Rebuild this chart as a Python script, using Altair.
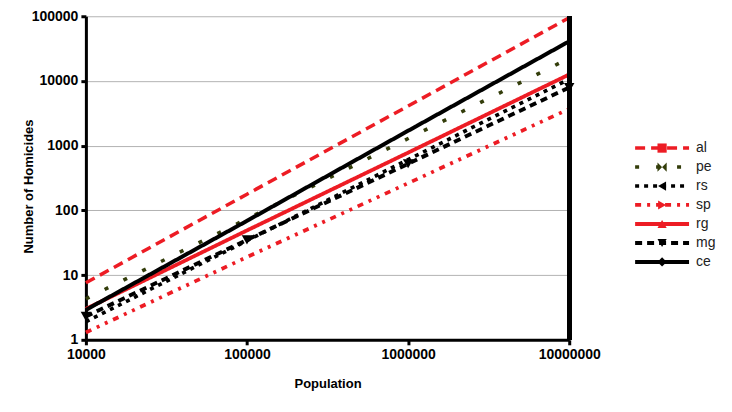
import altair as alt
import pandas as pd

names = ["al", "pe", "rs", "sp", "rg", "mg", "ce"]
population = [10000, 100000, 1000000, 10000000]
al = [7.6, 178, 4100, 95000]
pe = [4.3, 74, 1290, 22400]
rs = [1.9, 34, 610, 10700]
sp = [1.3, 19, 263, 3700]
rg = [3.0, 49, 780, 12600]
mg = [2.3, 35, 525, 7950]
ce = [2.9, 69, 1700, 41000]
series_values = {"al": al, "pe": pe, "rs": rs, "sp": sp, "rg": rg, "mg": mg, "ce": ce}

x_ticks = [10000, 100000, 1000000, 10000000]
y_ticks = [1, 10, 100, 1000, 10000, 100000]

colors = ["#ed1c24", "#333d0a", "#000000", "#ed1c24", "#ed1c24", "#000000", "#000000"]
dashes = [[10, 6], [4, 17], [4, 5], [6, 6, 3, 6, 3, 6], [1, 0], [7, 5], [1, 0]]
widths = [3.5, 4, 3.5, 3, 3.5, 3.5, 3.5]
bowtie = "M-1,-1L1,1L1,-1L-1,1Z"
shapes = ["square", bowtie, "triangle-left", "triangle-right", "triangle-up", "triangle-down", "diamond"]

rows = []
for n in names:
    for p, v in zip(population, series_values[n]):
        rows.append({"series": n, "pop": p, "hom": v})
df = pd.DataFrame(rows)

color_enc = alt.Color("series:N", scale=alt.Scale(domain=names, range=colors), legend=None)
dash_enc = alt.StrokeDash("series:N", scale=alt.Scale(domain=names, range=dashes), legend=None)
width_enc = alt.StrokeWidth("series:N", scale=alt.Scale(domain=names, range=widths), legend=None)
shape_enc = alt.Shape("series:N", scale=alt.Scale(domain=names, range=shapes), legend=None)

FONT = "Liberation Sans"

x_enc = alt.X("pop:Q", scale=alt.Scale(type="log", domain=[10000, 10000000], nice=False),
              axis=alt.Axis(values=x_ticks, format="d", title="Population", grid=False,
                            labelFlush=False, labelPadding=3, titlePadding=16))
y_enc = alt.Y("hom:Q", scale=alt.Scale(type="log", domain=[1, 100000], nice=False),
              axis=alt.Axis(values=y_ticks, format="d", title="Number of Homicides", grid=True,
                            labelFlush=False, labelPadding=3, titleX=-50, titleY=170))

lines = alt.Chart(df).mark_line(strokeCap="butt").encode(
    x=x_enc, y=y_enc, color=color_enc, strokeDash=dash_enc, strokeWidth=width_enc,
    order="pop:Q"
)

mg_points = alt.Chart(df).transform_filter(alt.datum.series == "mg").mark_point(
    filled=True, shape="triangle-down", size=110, opacity=1, color="#000000"
).encode(x="pop:Q", y="hom:Q")

right_border = alt.Chart(df).mark_rule(color="#000000", strokeWidth=4).encode(
    x=alt.datum(10000000), y=alt.datum(1), y2=alt.datum(100000)
)

main = alt.layer(lines, mg_points, right_border).properties(width=484, height=324)

leg_df = pd.DataFrame({"series": names})
leg_y = alt.Y("series:N", sort=names,
              scale=alt.Scale(type="point", domain=names, range=[132, 246], padding=0), axis=None)

leg_lines = alt.Chart(leg_df).mark_rule(strokeCap="butt").encode(
    y=leg_y, x=alt.value(56), x2=alt.value(110),
    color=color_enc, strokeDash=dash_enc, strokeWidth=width_enc
)
leg_pts = alt.Chart(leg_df).mark_point(filled=True, size=85, opacity=1).encode(
    y=leg_y, x=alt.value(83), color=color_enc, shape=shape_enc
)
leg_text = alt.Chart(leg_df).mark_text(align="left", baseline="middle", font=FONT, fontSize=14,
                                         color="#222222").encode(
    y=leg_y, x=alt.value(117), text="series:N"
)
legend = alt.layer(leg_lines, leg_pts, leg_text).properties(width=140, height=324)

chart = alt.hconcat(main, legend, spacing=10, bounds="flush").properties(
    padding={"left": 15, "top": 1, "right": 5, "bottom": 5}
).configure_view(stroke=None).configure_axis(
    domainColor="#000000", domainWidth=3, tickColor="#000000", tickWidth=3, tickSize=5,
    labelFont=FONT, labelFontWeight="bold", labelFontSize=14, labelColor="#000000",
    titleFont=FONT, titleFontWeight="bold", titleFontSize=13, titleColor="#000000",
    gridColor="#b3b3b3", gridWidth=1
)

chart.save("out.html", embed_options={"renderer": "svg", "actions": False})
